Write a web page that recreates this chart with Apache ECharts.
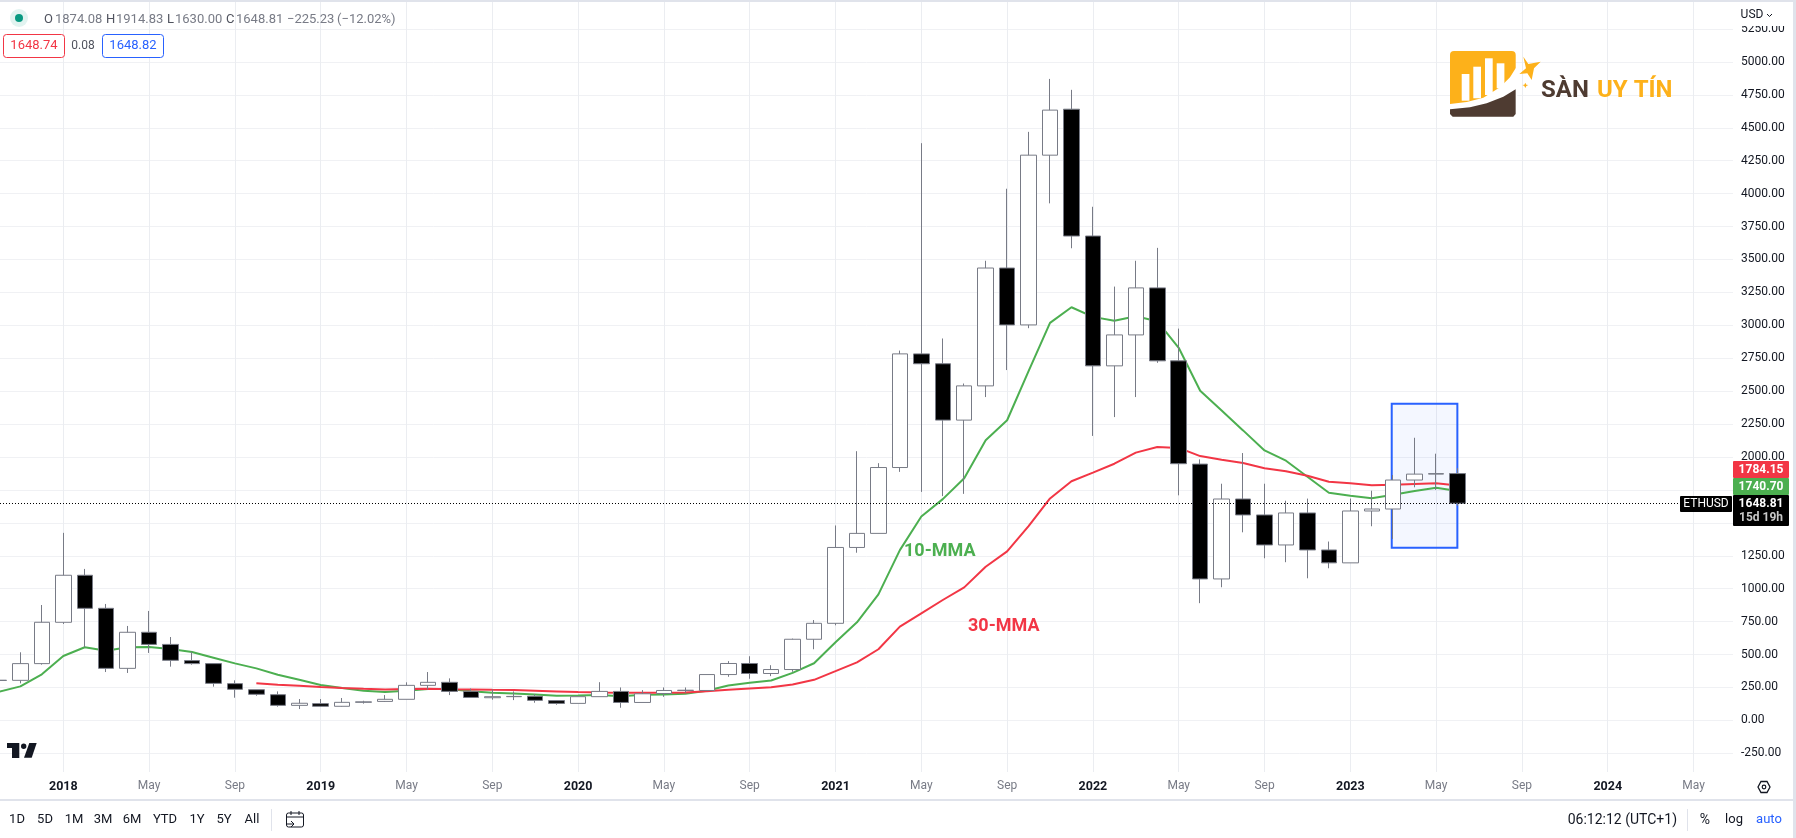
<!DOCTYPE html>
<html>
<head>
<meta charset="utf-8">
<title>ETHUSD monthly</title>
<style>
  html, body { margin: 0; padding: 0; background: #fff; }
  #chart { width: 1796px; height: 838px; }
</style>
<script src="https://cdn.jsdelivr.net/npm/echarts@6/dist/echarts.min.js"></script>
</head>
<body>
<div id="chart"></div>
<script>
// months shown, first one is Oct 2017 and only half of it is on screen
const firstYear = 2017, firstMonth = 9;
const monthNames = ['Jan', 'Feb', 'Mar', 'Apr', 'May', 'Jun', 'Jul', 'Aug', 'Sep', 'Oct', 'Nov', 'Dec'];

const opens = [303, 304, 431, 745, 1102, 851, 395, 669, 577, 454, 431, 279, 233, 195, 114, 127, 107, 137, 144, 160, 266, 289, 220, 172, 180, 183, 150, 129, 180, 220, 136, 204, 227, 227, 348, 432, 356, 386, 616, 737, 1313, 1420, 1920, 2783, 2708, 2280, 2540, 3435, 3003, 4292, 4641, 3678, 2692, 2927, 3284, 2730, 1946, 1074, 1681, 1560, 1332, 1575, 1294, 1196, 1590, 1605, 1825, 1870, 1874.08];
const closes = [305, 431, 745, 1102, 851, 395, 669, 577, 456, 431, 281, 236, 198, 114, 130, 107, 137, 141, 160, 266, 289, 220, 174, 180, 182, 152, 129, 180, 220, 136, 202, 227, 229, 348, 432, 356, 386, 616, 737, 1313, 1420, 1920, 2783, 2708, 2280, 2540, 3435, 3003, 4292, 4634, 3678, 2692, 2927, 3284, 2730, 1949, 1074, 1681, 1560, 1332, 1575, 1294, 1196, 1590, 1605, 1825, 1870, 1874, 1648.81];
const lows = [275, 281, 423, 732, 555, 367, 360, 512, 408, 423, 256, 172, 187, 104, 86, 104, 104, 127, 140, 160, 235, 192, 174, 157, 154, 134, 119, 129, 180, 96, 136, 179, 210, 227, 331, 316, 336, 369, 540, 722, 1273, 1420, 1887, 1735, 1703, 1720, 2455, 2660, 2978, 3926, 3585, 2160, 2303, 2455, 2715, 1709, 890, 1011, 1428, 1231, 1201, 1079, 1155, 1196, 1474, 1378, 1770, 1750, 1630];
const highs = [350, 517, 876, 1424, 1150, 884, 717, 831, 633, 522, 431, 304, 233, 220, 162, 162, 170, 149, 192, 289, 367, 319, 242, 235, 220, 200, 154, 180, 290, 250, 230, 250, 250, 348, 450, 487, 419, 621, 762, 1480, 2044, 1953, 2808, 4383, 2900, 2558, 3490, 4037, 4469, 4871, 4788, 3900, 3294, 3490, 3588, 2975, 1982, 1797, 2030, 1797, 1668, 1684, 1358, 1684, 1744, 1863, 2146, 2025, 1914.83];

// moving averages
const ma10 = [218, 258, 350, 489, 555, 529, 555, 557, 542, 519, 476, 433, 395, 347, 309, 268, 246, 225, 215, 225, 238, 238, 222, 210, 205, 197, 187, 189, 192, 184, 194, 197, 202, 225, 265, 285, 303, 361, 434, 593, 745, 957, 1293, 1548, 1680, 1839, 2127, 2279, 2652, 3018, 3137, 3064, 3034, 3069, 3031, 2829, 2503, 2353, 2202, 2050, 1972, 1850, 1729, 1706, 1686, 1714, 1742, 1767, 1741];
const ma30 = [null, null, null, null, null, null, null, null, null, null, null, null, 281, 271, 263, 253, 246, 240, 235, 238, 240, 237, 235, 232, 230, 225, 220, 215, 212, 210, 210, 210, 212, 222, 232, 242, 252, 273, 308, 374, 441, 540, 712, 813, 914, 1010, 1167, 1283, 1475, 1685, 1816, 1881, 1949, 2033, 2076, 2069, 2007, 1979, 1954, 1914, 1891, 1858, 1812, 1800, 1785, 1790, 1795, 1800, 1784];

const priceTicks = [-250, 0, 250, 500, 750, 1000, 1250, 1500, 1750, 2000, 2250, 2500, 2750, 3000, 3250, 3500, 3750, 4000, 4250, 4500, 4750, 5000, 5250];
const timeTicks = [3, 7, 11, 15, 19, 23, 27, 31, 35, 39, 43, 47, 51, 55, 59, 63, 67, 71, 75, 79];
const rangeLabels = ['1D', '5D', '1M', '3M', '6M', 'YTD', '1Y', '5Y', 'All'];
const rangeX = [17, 45, 74, 103, 132, 165, 197, 224, 252];

const lastPrice = 1648.81;
const ui = 'Roboto, "Noto Sans", sans-serif';

function monthLabel(i) {
  const m = firstMonth + i;
  const month = m % 12;
  if (month === 0) return '{y|' + (firstYear + m / 12) + '}';
  return '{m|' + monthNames[month] + '}';
}

function txt(x, y, text, fill, size, align, weight) {
  return {
    type: 'text', z: 50, x: x, y: y, silent: true,
    style: {
      text: text, fill: fill, textAlign: align || 'left', textVerticalAlign: 'middle',
      font: (weight || 'normal') + ' ' + (size || 12) + 'px ' + ui
    }
  };
}
function box(x, y, w, h, fill, r, stroke) {
  return {
    type: 'rect', z: 40, silent: true,
    shape: { x: x, y: y, width: w, height: h, r: r || 0 },
    style: { fill: fill, stroke: stroke || null, lineWidth: stroke ? 1 : 0 }
  };
}
function poly(points, fill, z) {
  return { type: 'polygon', z: z || 41, silent: true, shape: { points: points }, style: { fill: fill } };
}
// logo points were measured on a 3x crop that starts at x=1400
function lg(points) {
  return points.map(p => [1400 + p[0] / 3, p[1] / 3]);
}

const gold = '#fdb11a', brown = '#4e3b31';
const graphics = [
  // panel edge
  box(0, 0, 1796, 2, '#e0e3eb'),
  box(1793, 0, 3, 838, '#e0e3eb'),
  box(0, 799, 1793, 2, '#e0e3eb'),
  // top of the price scale
  box(1733, 2, 60, 24, '#fff'),
  txt(1752, 15, 'USD', '#131722', 12, 'center'),
  { type: 'polyline', z: 50, silent: true, shape: { points: [[1767, 14], [1769.5, 16.5], [1772, 14]] }, style: { stroke: '#131722', lineWidth: 1, fill: null } },
  // header
  { type: 'circle', z: 40, silent: true, shape: { cx: 19, cy: 18, r: 9 }, style: { fill: 'rgba(8,153,129,0.12)' } },
  { type: 'circle', z: 41, silent: true, shape: { cx: 19, cy: 18, r: 4 }, style: { fill: '#089981' } },
  txt(44, 20, 'O', '#50535e', 13), txt(55, 20, '1874.08', '#787b86', 13),
  txt(106, 20, 'H', '#50535e', 13), txt(116, 20, '1914.83', '#787b86', 13),
  txt(167, 20, 'L', '#50535e', 13), txt(175, 20, '1630.00', '#787b86', 13),
  txt(226, 20, 'C', '#50535e', 13), txt(236, 20, '1648.81', '#787b86', 13),
  txt(287, 20, '\u2212225.23', '#787b86', 13), txt(337, 20, '(\u221212.02%)', '#787b86', 13),
  box(3.5, 34.5, 61, 23, '#fff', 3, '#f23645'), txt(34, 46, '1648.74', '#f23645', 13, 'center'),
  txt(83, 46, '0.08', '#50535e', 12, 'center'),
  box(102.5, 34.5, 61, 23, '#fff', 3, '#2962ff'), txt(133, 46, '1648.82', '#2962ff', 13, 'center'),
  // logo
  box(1450, 51, 65.7, 65.7, gold, 4),
  poly(lg([[150, 312], [200, 306], [250, 293], [300, 262], [330, 232], [347, 205], [352, 205], [352, 355], [146, 355]]), '#fff'),
  poly(lg([[150, 328], [210, 322], [260, 310], [310, 290], [347, 268], [347, 342], [340, 350], [158, 350], [150, 342]]), brown),
  box(1461.7, 74, 7.7, 26.7, '#fff'), box(1473.3, 66.7, 7.7, 31.6, '#fff'),
  box(1485, 58.3, 7.7, 36.7, '#fff'), box(1496.7, 63.3, 7.7, 25, '#fff'),
  poly(lg([[370, 170], [385, 192], [422, 185], [402, 205], [395, 240], [382, 220], [358, 222], [378, 205]]), gold),
  poly(lg([[376, 248], [379, 254], [385, 255], [379, 258], [376, 264], [373, 258], [367, 255], [373, 254]]), gold),
  txt(1541, 91, 'S\u00c0N', brown, 24, 'left', 'bold'),
  txt(1597, 91, 'UY T\u00cdN', gold, 24, 'left', 'bold'),
  // annotations
  txt(904, 551, '10-MMA', '#4caf50', 18, 'left', 'bold'),
  txt(968, 626, '30-MMA', '#f23645', 18, 'left', 'bold'),
  // last value tags
  box(1733, 461, 56, 17, '#f23645', 1), txt(1761, 470, '1784.15', '#fff', 12, 'center', 'bold'),
  box(1733, 478, 56, 17, '#4caf50', 1), txt(1761, 487, '1740.70', '#fff', 12, 'center', 'bold'),
  box(1733, 495, 56, 31, '#000', 1), txt(1761, 504, '1648.81', '#fff', 12, 'center', 'bold'),
  txt(1761, 518, '15d 19h', '#c8c8c8', 12, 'center', 'bold'),
  box(1680, 496, 52, 16, '#000', 1), txt(1706, 504, 'ETHUSD', '#fff', 12, 'center'),
  // TradingView mark
  poly([[7, 743], [19.3, 743], [19.3, 758], [12, 758], [12, 748], [7, 748]], '#131722'),
  { type: 'circle', z: 41, silent: true, shape: { cx: 23.7, cy: 746.3, r: 2.7 }, style: { fill: '#131722' } },
  poly([[29.3, 743], [36.7, 743], [31.7, 757.7], [24, 757.7]], '#131722'),
  // settings
  { type: 'polygon', z: 41, silent: true, shape: { points: [[1758, 787], [1761, 781.5], [1767, 781.5], [1770, 787], [1767, 792.5], [1761, 792.5]] }, style: { fill: '#fff', stroke: '#131722', lineWidth: 1.3 } },
  { type: 'circle', z: 42, silent: true, shape: { cx: 1764, cy: 787, r: 1.8 }, style: { fill: '#fff', stroke: '#131722', lineWidth: 1.2 } },
  // bottom toolbar
  box(271, 809, 1, 22, '#e0e3eb'),
  { type: 'rect', z: 41, silent: true, shape: { x: 286.5, y: 813, width: 17, height: 14, r: 2 }, style: { fill: null, stroke: '#131722', lineWidth: 1 } },
  { type: 'line', z: 41, silent: true, shape: { x1: 287, y1: 817, x2: 303, y2: 817 }, style: { stroke: '#131722', lineWidth: 1 } },
  { type: 'line', z: 41, silent: true, shape: { x1: 291, y1: 811, x2: 291, y2: 815 }, style: { stroke: '#131722', lineWidth: 1 } },
  { type: 'line', z: 41, silent: true, shape: { x1: 299, y1: 811, x2: 299, y2: 815 }, style: { stroke: '#131722', lineWidth: 1 } },
  { type: 'polyline', z: 42, silent: true, shape: { points: [[286, 824], [294, 824], [291, 821], [294, 824], [291, 827]] }, style: { fill: null, stroke: '#131722', lineWidth: 1 } },
  box(284, 826, 6, 3, '#fff'),
  txt(1677, 820, '06:12:12 (UTC+1)', '#131722', 14, 'right'),
  box(1687, 809, 1, 22, '#e0e3eb'),
  txt(1705, 820, '%', '#131722', 14, 'center'),
  txt(1734, 820, 'log', '#131722', 13, 'center'),
  txt(1769, 820, 'auto', '#2962ff', 13, 'center')
];
rangeLabels.forEach((t, i) => graphics.push(txt(rangeX[i], 820, t, '#131722', 13, 'center')));

const chart = echarts.init(document.getElementById('chart'), null, { renderer: 'canvas' });

chart.setOption({
  animation: false,
  backgroundColor: '#fff',
  // px per month is 21.45, so the edges land on these fractional month numbers
  grid: { left: 0, top: 2, width: 1733, height: 770, containLabel: false },
  xAxis: {
    type: 'value',
    min: 0.049,
    max: 80.84,
    axisLine: { show: false },
    axisTick: { show: false, customValues: timeTicks },
    splitLine: { show: true, lineStyle: { color: '#ebedf1', width: 1 } },
    axisLabel: {
      customValues: timeTicks,
      margin: 8,
      formatter: v => monthLabel(v),
      rich: {
        y: { color: '#131722', fontFamily: ui, fontSize: 12.5, fontWeight: 'bold' },
        m: { color: '#787b86', fontFamily: ui, fontSize: 12 }
      }
    }
  },
  yAxis: {
    type: 'value',
    position: 'right',
    min: -392,
    max: 5455,
    axisLine: { show: false },
    axisTick: { show: false, customValues: priceTicks },
    splitLine: { show: true, lineStyle: { color: '#f0f1f4', width: 1 } },
    axisLabel: {
      customValues: priceTicks,
      margin: 8,
      padding: [4, 0, 0, 0],
      color: '#131722',
      fontFamily: ui,
      fontSize: 12,
      formatter: v => v.toFixed(2)
    }
  },
  series: [
    {
      name: '10-MMA',
      type: 'line',
      z: 2,
      symbol: 'none',
      lineStyle: { color: '#4caf50', width: 2 },
      data: ma10.map((v, i) => [i, v]),
      // the blue highlight box
      markArea: {
        silent: true,
        z: 1,
        itemStyle: { color: 'rgba(41,98,255,0.05)', borderColor: '#2962ff', borderWidth: 2 },
        data: [[{ xAxis: 64.93, yAxis: 2405 }, { xAxis: 67.99, yAxis: 1310 }]]
      }
    },
    {
      name: '30-MMA',
      type: 'line',
      z: 2,
      symbol: 'none',
      lineStyle: { color: '#f23645', width: 2 },
      data: ma30.map((v, i) => [i, v]).filter(d => d[1] !== null)
    },
    {
      name: 'ETHUSD',
      type: 'candlestick',
      z: 3,
      barWidth: 16,
      itemStyle: { color: '#fff', color0: '#000', borderColor: '#787b86', borderColor0: '#787b86', borderWidth: 1 },
      data: opens.map((o, i) => [i, o, closes[i], lows[i], highs[i]]),
      markLine: {
        silent: true,
        symbol: 'none',
        z: 5,
        label: { show: false },
        lineStyle: { color: '#000', type: [1, 2], width: 1 },
        data: [{ yAxis: lastPrice }]
      }
    }
  ],
  graphic: { elements: graphics }
});
</script>
</body>
</html>
